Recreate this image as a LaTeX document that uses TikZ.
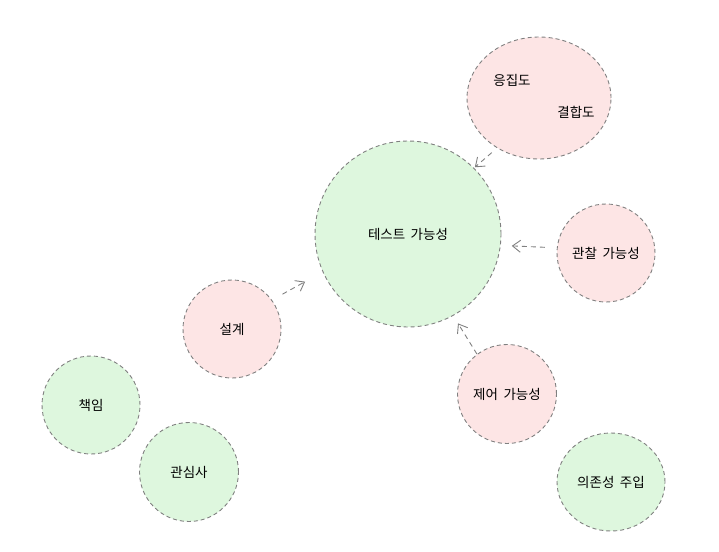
\documentclass[tikz,border=0pt]{standalone}
\usepackage{fontspec}
\setmainfont[WordSpace=1.8]{Noto Sans CJK KR}
\usetikzlibrary{shapes.geometric, arrows.meta}
\definecolor{leafgreen}{RGB}{222,247,222}
\definecolor{leafpink}{RGB}{253,229,229}
\definecolor{rimgray}{RGB}{128,128,128}

\begin{document}
\begin{tikzpicture}[
	x=1pt, y=-1pt,
	font=\fontsize{13.5}{16}\selectfont,
	bubble/.style = {circle, draw=rimgray, line width=0.9pt,
		dash pattern=on 4pt off 3pt, fill=#1,
		minimum size=98pt, inner sep=0pt},
	link/.style = {draw=rimgray, line width=0.9pt, dash pattern=on 5pt off 4pt,
		-{Straight Barb[length=8pt,width=12pt]}}
	]
	\useasboundingbox (0,0) rectangle (719,551);
	
	\node (test) [bubble=leafgreen, minimum size=186pt] at (408,234) {테스트 가능성};
	\node (cohes) [bubble=leafpink, ellipse, minimum width=144pt, minimum height=122pt] at (539,98) {};
	\node (cohtxt) at (512,80) {응집도};
	\node (coutxt) at (576,112) {결합도};
	\node (observ) [bubble=leafpink] at (606,253) {관찰 가능성};
	\node (design) [bubble=leafpink] at (232,329) {설계};
	\node (control) [bubble=leafpink, minimum size=99pt] at (507,394) {제어 가능성};
	\node (resp) [bubble=leafgreen] at (91,405) {책임};
	\node (concern) [bubble=leafgreen, minimum size=99pt] at (189,472) {관심사};
	\node (inject) [bubble=leafgreen, ellipse, minimum width=108pt, minimum height=98pt] at (611,482) {의존성 주입};
	%
	\draw[link, shorten <=7pt, shorten >=1pt] (cohes.230) to (test.45);
	\draw[link, shorten <=12pt, shorten >=11pt] (observ.174) to (test.353);
	\draw[link, shorten <=12pt, shorten >=20pt] (design.36) to (test.204);
	\draw[link, shorten >=9pt] (control.127) to (test.299);
\end{tikzpicture}
\end{document}
